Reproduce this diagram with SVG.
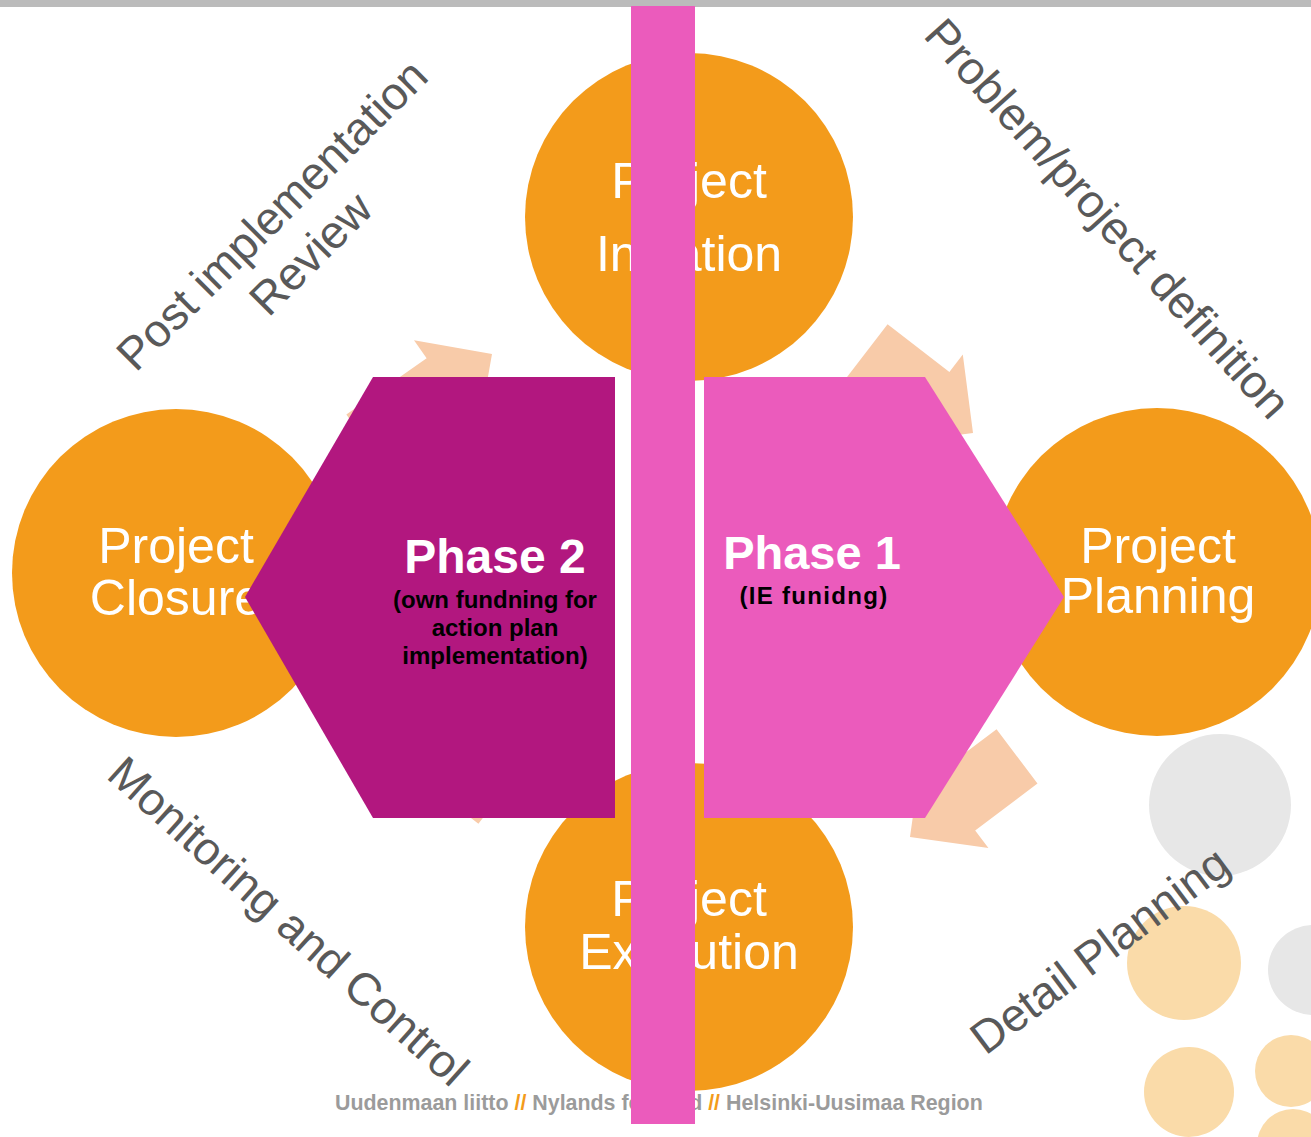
<svg xmlns="http://www.w3.org/2000/svg" width="1311" height="1137" viewBox="0 0 1311 1137">
<style>
.circ{fill:#F39B1B}
.ctext{font-family:"Liberation Sans",Arial,sans-serif;font-size:50px;fill:#FFFFFF;text-anchor:middle}
.arrow{fill:#F8CBA9}
.lbl{font-family:"Liberation Sans",Arial,sans-serif;font-size:46px;fill:#595959;text-anchor:middle}
.ph{font-family:"Liberation Sans",Arial,sans-serif;font-weight:bold;text-anchor:middle}
.dotg{fill:#E7E7E7}
.doto{fill:#FADBA9}
</style>
<rect x="0" y="0" width="1311" height="1137" fill="#FFFFFF"/>
<rect x="0" y="0" width="1311" height="7" fill="#BBBBBB"/>
<g id="decor">
<circle class="dotg" cx="1220" cy="805" r="71"/>
<circle class="doto" cx="1184" cy="963" r="57"/>
<circle class="dotg" cx="1313" cy="970" r="45"/>
<circle class="doto" cx="1189" cy="1092" r="45"/>
<circle class="doto" cx="1291" cy="1071" r="36"/>
<circle class="doto" cx="1293" cy="1145" r="36"/>
</g>
<g id="footer">
<text x="335" y="1110" font-family="'Liberation Sans',Arial,sans-serif" font-weight="bold" font-size="21.4" fill="#9B9B9B">Uudenmaan liitto <tspan fill="#F39B1B">//</tspan> Nylands förbund <tspan fill="#F39B1B">//</tspan> Helsinki-Uusimaa Region</text>
</g>
<g id="labels">
<text class="lbl" font-size="47" transform="translate(283,226) rotate(-45)"><tspan x="0" y="0">Post implementation</tspan><tspan x="0" y="55">Review</tspan></text>
<text class="lbl" font-size="45.5" transform="translate(1096,229) rotate(48)">Problem/project definition</text>
<text class="lbl" font-size="47" transform="translate(278,933) rotate(42)">Monitoring and Control</text>
<text class="lbl" transform="translate(1109,963) rotate(-37)">Detail Planning</text>
</g>
<g id="node-initiation">
<circle class="circ" cx="689" cy="217" r="164"/>
<text class="ctext" x="689" y="198">Project</text>
<text class="ctext" x="689" y="271">Initiation</text>
</g>
<g id="node-planning">
<circle class="circ" cx="1157" cy="572" r="164"/>
<text class="ctext" x="1158" y="563">Project</text>
<text class="ctext" x="1158" y="613">Planning</text>
</g>
<g id="node-execution">
<circle class="circ" cx="689" cy="927" r="164"/>
<text class="ctext" x="689" y="916">Project</text>
<text class="ctext" x="689" y="969">Execution</text>
</g>
<g id="node-closure">
<circle class="circ" cx="176" cy="573" r="164"/>
<text class="ctext" x="176" y="563">Project</text>
<text class="ctext" x="176" y="615">Closure</text>
</g>
<g id="connectors">
<polygon class="arrow" transform="translate(492,354) rotate(-35)" points="0,0 -56,-56 -56,-34 -154,-34 -154,34 -56,34 -56,56"/>
<polygon class="arrow" transform="translate(973,433) rotate(37.6)" points="0,0 -56,-56 -56,-34 -134,-34 -134,34 -56,34 -56,56"/>
<polygon class="arrow" transform="translate(910,837) rotate(143)" points="0,0 -56,-56 -56,-34 -134,-34 -134,34 -56,34 -56,56"/>
<polygon class="arrow" transform="translate(393,715) rotate(217.6)" points="0,0 -56,-56 -56,-34 -134,-34 -134,34 -56,34 -56,56"/>
</g>
<g id="node-phase2">
<polygon points="373,377 615,377 615,818 373,818 245,597" fill="#B2177F"/>
<text class="ph" x="495" y="573" font-size="48" fill="#FFFFFF">Phase 2</text>
<text class="ph" x="495" y="608" font-size="24" fill="#000000">(own fundning for</text>
<text class="ph" x="495" y="636" font-size="24" fill="#000000">action plan</text>
<text class="ph" x="495" y="664" font-size="24" fill="#000000">implementation)</text>
</g>
<g id="node-phase1">
<polygon points="704,377 925,377 1064,597 925,818 704,818" fill="#EB5BBC"/>
<text class="ph" x="812" y="569" font-size="47" fill="#FFFFFF">Phase 1</text>
<text class="ph" x="814" y="604" font-size="24" letter-spacing="1.3" fill="#000000">(IE funidng)</text>
</g>
<g id="divider">
<rect x="631" y="6" width="64" height="1118" fill="#EB5BBC"/>
</g>
</svg>
